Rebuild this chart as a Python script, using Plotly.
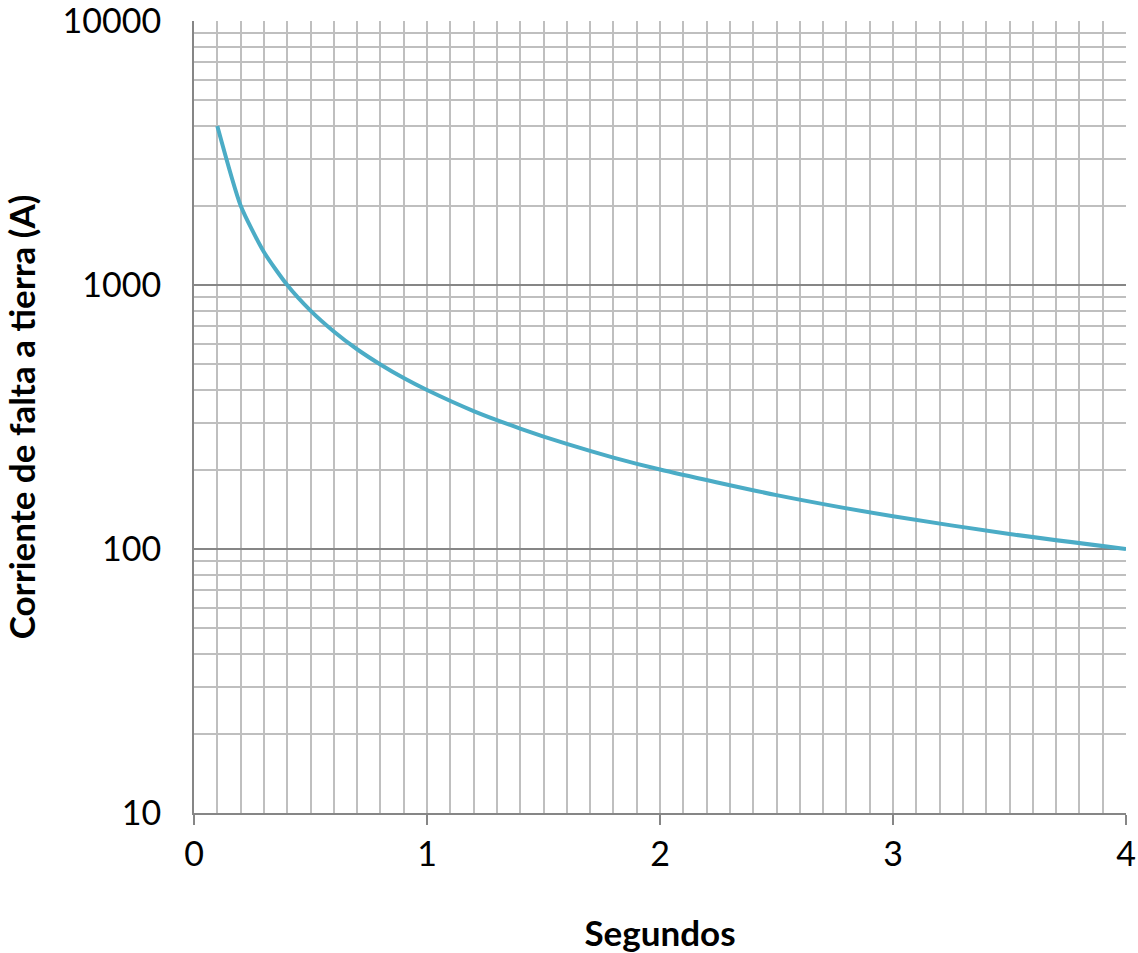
import plotly.graph_objects as go

segundos = [0.1, 0.2, 0.3, 0.4, 0.5, 0.6, 0.7, 0.8, 0.9, 1.0, 1.2, 1.4, 1.6, 1.8, 2.0, 2.5, 3.0, 3.5, 4.0]
corriente = [4000, 2000, 1333, 1000, 800, 667, 571, 500, 444, 400, 333, 286, 250, 222, 200, 160, 133, 114, 100]

x_ticks = [0, 1, 2, 3, 4]
y_ticks = [10, 100, 1000, 10000]
y_tick_text = ["10", "100", "1000", "10000"]

font_fam = "Lato, Open Sans, sans-serif"

fig = go.Figure()
fig.add_trace(go.Scatter(
    x=segundos, y=corriente, mode="lines",
    line=dict(color="#4bacc6", width=4, shape="spline", smoothing=0.6),
    showlegend=False, hoverinfo="x+y",
))

fig.update_layout(
    width=1138, height=953,
    margin=dict(l=194, r=12, t=21, b=140),
    plot_bgcolor="white", paper_bgcolor="white",
    font=dict(family=font_fam, size=34, color="black"),
    xaxis=dict(
        range=[0, 4], tickvals=x_ticks, ticktext=[str(v) for v in x_ticks],
        automargin=False,
        showline=True, linecolor="#868686", linewidth=2,
        ticks="outside", ticklen=10, tickcolor="#868686", tickwidth=2,
        ticklabeloverflow="allow",
        showgrid=True, gridcolor="#bfbfbf", gridwidth=1.5,
        minor=dict(dtick=0.1, showgrid=True, gridcolor="#bfbfbf", gridwidth=1.5, ticks=""),
        zeroline=False,
        tickfont=dict(size=34, family=font_fam),
        title=dict(text="<b>Segundos</b>", font=dict(size=35, family=font_fam), standoff=50),
    ),
    yaxis=dict(
        type="log", range=[1, 4], tickvals=y_ticks, ticktext=y_tick_text,
        automargin=False,
        showline=True, linecolor="#868686", linewidth=2,
        ticks="", ticklabelstandoff=24, ticklabeloverflow="allow",
        showgrid=True, gridcolor="#868686", gridwidth=1.5,
        minor=dict(dtick="D1", showgrid=True, gridcolor="#bfbfbf", gridwidth=1.5, ticks=""),
        zeroline=False,
        tickfont=dict(size=34, family=font_fam),
        title=dict(text="<b>Corriente de falta a tierra (A)</b>", font=dict(size=35, family=font_fam), standoff=30),
    ),
)

fig.write_html("out.html")
